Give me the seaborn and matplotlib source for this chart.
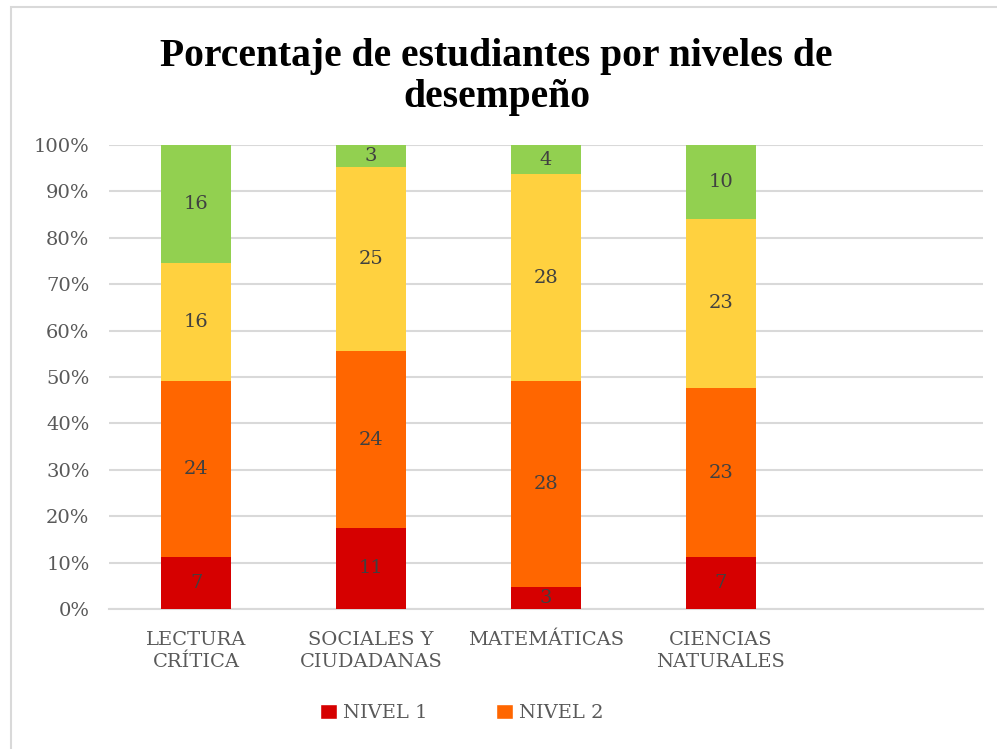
import matplotlib
matplotlib.use("Agg")
import matplotlib.pyplot as plt
import seaborn as sns
import pandas as pd
import numpy as np
from matplotlib.patches import Rectangle, Patch

categories = ["LECTURA\nCRÍTICA", "SOCIALES Y\nCIUDADANAS", "MATEMÁTICAS", "CIENCIAS\nNATURALES"]
series_names = ["NIVEL 1", "NIVEL 2", "NIVEL 3", "NIVEL 4"]
nivel1 = [7, 11, 3, 7]
nivel2 = [24, 24, 28, 23]
nivel3 = [16, 25, 28, 23]
nivel4 = [16, 3, 4, 10]
colors = ["#D60000", "#FF6600", "#FFD13F", "#92D050"]
ytick_labels = ["0%", "10%", "20%", "30%", "40%", "50%", "60%", "70%", "80%", "90%", "100%"]

sns.set_theme(style="white")
plt.rcParams["font.family"] = ["DejaVu Serif", "Liberation Serif"]

series = [nivel1, nivel2, nivel3, nivel4]
totals = np.sum(np.array(series), axis=0)

fig = plt.figure(figsize=(9.97, 7.49), dpi=100)
ax = fig.add_axes([109/997, 1-609/749, (983-109)/997, (609-145)/749])

# figure border (top & left visible)
fig.patches.append(Rectangle((11/997, -0.1), 1.2, 1 - 7/749 + 0.1, transform=fig.transFigure,
                             fill=False, edgecolor="#D9D9D9", linewidth=1.5, zorder=0))

bottom = np.zeros(len(categories))
for name, vals, col in zip(series_names, series, colors):
    pct = np.array(vals) / totals * 100
    df = pd.DataFrame({"cat": categories, "pct": pct})
    sns.barplot(data=df, x="cat", y="pct", order=categories, color=col, bottom=bottom,
                width=0.4, ax=ax, saturation=1, errorbar=None, zorder=3, linewidth=0)
    for i, (v, p, b) in enumerate(zip(vals, pct, bottom)):
        ax.text(i, b + p / 2, str(v), ha="center", va="center", fontsize=14,
                color="#404040", zorder=5)
    bottom = bottom + pct

ax.set_xlim(-0.5, 4.5)
ax.set_ylim(0, 100)
ax.set_yticks(np.arange(0, 101, 10))
ax.set_yticklabels(ytick_labels, fontsize=14, color="#595959")
ax.set_xticks(range(len(categories)))
ax.set_xticklabels(categories, fontsize=14, color="#595959", linespacing=1.25)
ax.set_xlabel("")
ax.set_ylabel("")
ax.tick_params(axis="y", length=0, pad=14)
ax.tick_params(axis="x", length=0, pad=16)
ax.yaxis.grid(True, color="#D9D9D9", linewidth=1.5, zorder=0)
ax.set_axisbelow(True)
for s in ["top", "right", "left"]:
    ax.spines[s].set_visible(False)
ax.spines["bottom"].set_color("#D9D9D9")
ax.spines["bottom"].set_linewidth(1.5)

fig.text(0.498, 1 - 77/749, "Porcentaje de estudiantes por niveles de\ndesempeño", ha="center", va="center",
         fontsize=28.5, fontweight="bold", color="black", linespacing=1.15,
         family=["Liberation Serif", "DejaVu Serif"])

handles = [Patch(facecolor=colors[0]), Patch(facecolor=colors[1])]
leg = fig.legend(handles, series_names[:2], loc="center", bbox_to_anchor=(462/997, 1-713/749),
                 ncol=2, frameon=False, fontsize=14, handlelength=0.85, handleheight=0.85,
                 handletextpad=0.35, columnspacing=3.5)
for t in leg.get_texts():
    t.set_color("#595959")

fig.savefig("out.png", dpi=100)
